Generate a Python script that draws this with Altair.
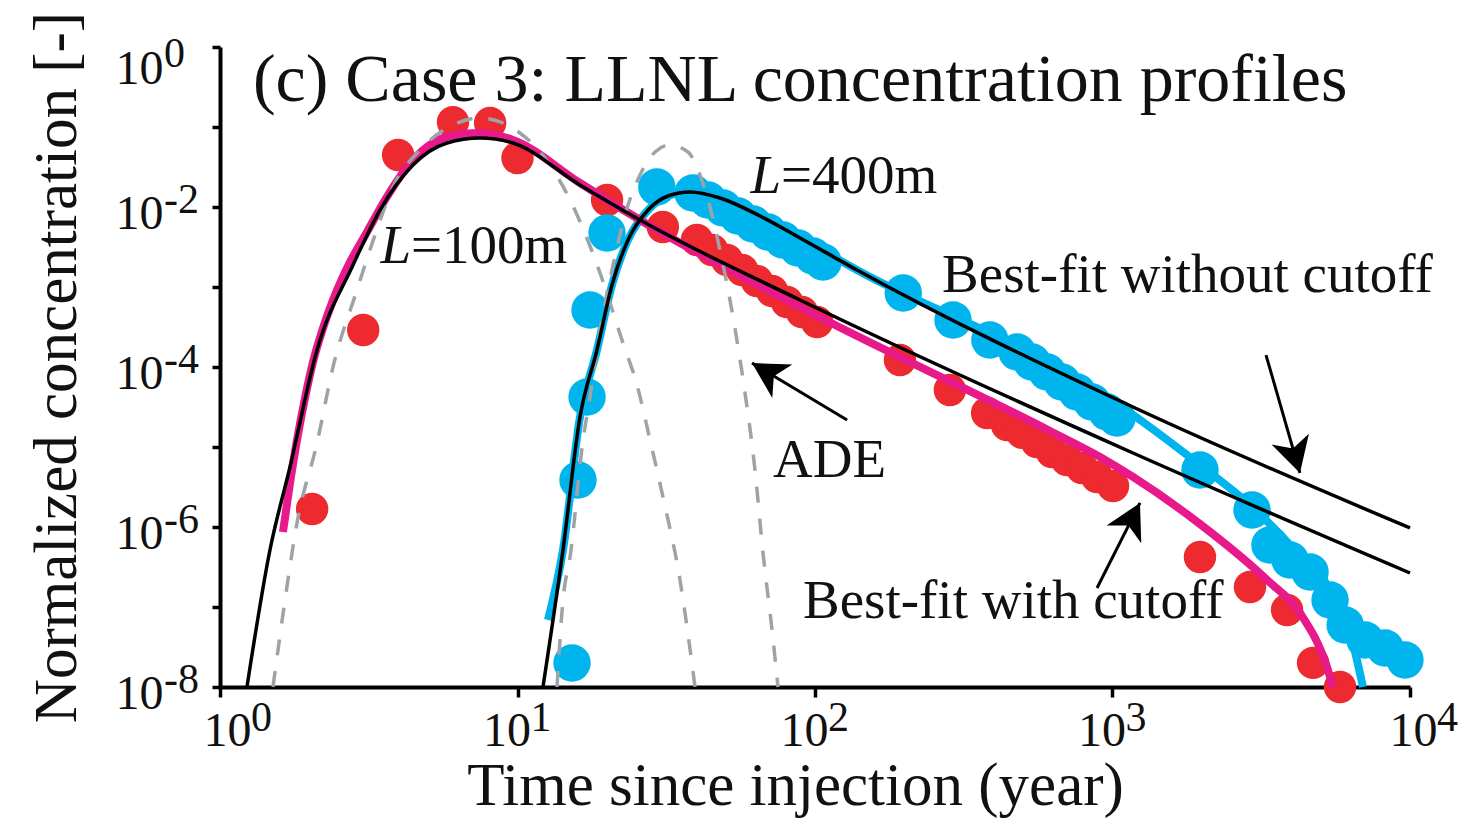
import math
import altair as alt
import pandas as pd

# ---------------- values ----------------
# measured concentrations, L = 100 m (red dots)
red_time = [2.04, 3.03, 3.97, 6.07, 8.09, 10.0, 20.0, 30.8, 40.1, 45.1, 50.6, 56.9,
            63.8, 71.7, 80.5, 90.4, 101.6, 193, 284, 379, 442, 497, 557, 626, 703,
            789, 887, 1004, 1968, 2898, 3862, 4722, 5818]
red_conc = [1.68e-6, 2.90e-4, 0.0447, 0.115, 0.112, 0.041, 0.01224, 0.00562, 0.00387,
            0.0029, 0.002176, 0.00163, 0.00119, 0.000891, 0.000649, 0.000487, 0.000365,
            1.224e-4, 5.16e-5, 2.66e-5, 1.88e-5, 1.50e-5, 1.155e-5, 8.66e-6, 6.88e-6,
            5.46e-6, 4.22e-6, 3.25e-6, 4.22e-7, 1.78e-7, 9.17e-8, 2.0e-8, 1.0e-8]

# measured concentrations, L = 400 m (blue dots)
blue_time = [15.25, 15.97, 17.13, 17.53, 20.0, 29.4, 38.9, 43.7, 49.1, 55.1, 61.9, 69.5,
             78.0, 87.7, 98.4, 106.4, 198, 291, 387, 478, 536, 603, 676, 760, 853, 959,
             1035, 1968, 2944, 3383, 3952, 4613, 5385, 6053, 7063, 8242, 9617]
blue_conc = [2.0e-8, 3.87e-6, 4.22e-5, 5.16e-4, 4.73e-3, 0.01778, 0.01496, 0.01224,
             0.00972, 0.00772, 0.00613, 0.00487, 0.00387, 0.00307, 0.00244, 0.002054,
             8.41e-4, 3.87e-4, 2.18e-4, 1.54e-4, 1.155e-4, 8.66e-5, 6.49e-5, 4.87e-5,
             3.65e-5, 2.74e-5, 2.30e-5, 5.16e-6, 1.63e-6, 5.96e-7, 3.87e-7, 2.74e-7,
             1.224e-7, 5.96e-8, 3.87e-8, 3.07e-8, 2.18e-8]

# best fit with cutoff, L = 100 m (magenta)
cut100_time = [1.628, 1.719, 1.815, 1.931, 2.054, 2.220, 2.398, 2.673, 3.120, 3.586,
               4.453, 5.794, 7.482, 9.658, 16.22, 25.81, 89.06, 616.6, 908, 1172, 1968,
               3306, 4268, 5260, 5512]
cut100_conc = [8.66e-7, 3.55e-6, 1.224e-5, 4.10e-5, 1.155e-4, 3.07e-4, 6.88e-4, 1.728e-3,
               4.87e-3, 0.01224, 0.0387, 0.075, 0.0841, 0.0688, 0.01995, 6.88e-3, 5.62e-4,
               1.585e-5, 7.5e-6, 4.22e-6, 1.09e-6, 2.18e-7, 8.41e-8, 1.778e-8, 1.0e-8]

# best fit with cutoff, L = 400 m (blue line)
cut400_time = [12.66, 14.22, 16.22, 18.50, 20.78, 23.52, 27.47, 32.06, 38.01, 47.94,
               65.34, 89.06, 138.4, 908, 1968, 2898, 3951, 5384, 6383, 6950]
cut400_conc = [6.88e-8, 5.16e-7, 2.37e-5, 1.632e-4, 1.06e-3, 3.87e-3, 9.17e-3, 0.01372,
               0.0154, 0.01296, 7.72e-3, 4.10e-3, 1.632e-3, 4.87e-5, 5.96e-6, 1.884e-6,
               5.96e-7, 1.632e-7, 3.87e-8, 1.0e-8]

# best fit without cutoff, L = 100 m (black)
nocut100_time = [1.232, 1.472, 1.719, 2.119, 2.80, 3.450, 4.453, 5.794, 7.482, 9.658,
                 16.22, 25.81, 89.06, 1172, 10000]
nocut100_conc = [1.0e-8, 5.16e-7, 5.62e-6, 1.632e-4, 1.884e-3, 9.17e-3, 0.0335, 0.0631,
                 0.0729, 0.0631, 0.01884, 6.88e-3, 6.88e-4, 8.41e-6, 2.66e-7]

# best fit without cutoff, L = 400 m (black)
nocut400_time = [12.18, 14.22, 16.22, 18.50, 20.78, 23.52, 27.47, 32.06, 38.01, 47.94,
                 65.34, 89.06, 138.4, 1172, 10000]
nocut400_conc = [1.0e-8, 5.16e-7, 2.37e-5, 1.632e-4, 1.06e-3, 3.87e-3, 9.17e-3, 0.01372,
                 0.0154, 0.01296, 7.72e-3, 4.10e-3, 1.632e-3, 3.16e-5, 9.72e-7]

# ADE solutions (grey dashed)
ade100_time = [1.507, 1.654, 1.815, 2.119, 2.398, 2.887, 3.319, 3.815, 4.701, 6.070,
               7.482, 10.19, 12.37, 15.02, 18.94, 22.62, 25.22, 27.89, 30.83, 35.17, 39.51]
ade100_conc = [1.0e-8, 1.224e-7, 1.122e-6, 1.122e-5, 1.0e-4, 9.17e-4, 4.47e-3, 0.01778,
               0.0516, 0.1059, 0.1296, 0.0841, 0.041, 0.01224, 1.496e-3, 2.0e-4, 5.96e-5,
               1.224e-5, 2.37e-6, 2.18e-7, 1.0e-8]
ade400_time = [13.58, 14.22, 15.02, 16.61, 17.53, 18.94, 20.78, 22.98, 25.81, 28.99,
               32.55, 37.42, 41.06, 45.07, 48.69, 53.02, 58.18, 62.85, 66.87, 71.71, 75.09]
ade400_conc = [1.0e-8, 1.224e-7, 4.22e-7, 1.224e-5, 4.22e-5, 2.90e-4, 1.632e-3, 7.94e-3,
               0.0251, 0.0487, 0.0596, 0.0487, 0.0251, 7.94e-3, 2.18e-3, 4.22e-4, 4.73e-5,
               5.16e-6, 4.73e-7, 5.16e-8, 1.0e-8]

# axis ticks: mantissa "10" plus exponent
x_ticks = [1, 10, 100, 1000, 10000]
x_tick_exponents = ["0", "1", "2", "3", "4"]
y_ticks = [1e-8, 1e-7, 1e-6, 1e-5, 1e-4, 1e-3, 1e-2, 1e-1, 1]
y_tick_exponents = ["-8", "", "-6", "", "-4", "", "-2", "", "0"]

# annotations
title_text = ["(c) Case 3: LLNL concentration profiles"]
title_time = [1.29]
title_conc = [0.2113]
note_text = ["=100m", "=400m", "ADE", "Best-fit without cutoff", "Best-fit with cutoff"]
note_time = [4.385, 76.9, 72.3, 267.3, 91.1]
note_conc = [0.001995, 0.01496, 4.22e-6, 8.66e-4, 7.29e-8]
ital_text = ["L", "L"]
ital_time = [4.385, 76.9]
ital_conc = [0.001995, 0.01496]

# arrows: tail -> tip
arrow_tail_time = [128.2, 3281, 887]
arrow_tail_conc = [2.18e-5, 1.41e-4, 1.73e-7]
arrow_tip_time = [61.4, 4267, 1237]
arrow_tip_conc = [1.12e-4, 4.73e-6, 2.0e-6]
arrow_angle = [301, 164, 27]

# ---------------- chart ----------------
FONT = "Liberation Serif"
INK = "#111111"
RED = "#ec2a2f"
BLUE = "#00b4ee"
MAGENTA = "#e8198b"
GREY = "#9ea3a8"
TICK_FS = 48
EXP_FS = 42


def has_label(ticks, exps):
    # label "10" only on ticks that carry an exponent
    keep = [str(round(math.log10(v))) for v, e in zip(ticks, exps) if e != ""]
    test = " || ".join(f"round(log(datum.value)/LN10) == {k}" for k in keep)
    return f"({test}) ? '10' : ''"


xscale = alt.Scale(type="log", domain=[1, 10000], nice=False)
yscale = alt.Scale(type="log", domain=[1e-8, 1], nice=False)

x_axis = alt.Axis(
    values=x_ticks, labelExpr=has_label(x_ticks, x_tick_exponents),
    title="Time since injection (year)", grid=False,
    domainColor="black", domainWidth=4, tickColor="black", tickWidth=3.5, tickSize=10,
    labelFont=FONT, labelFontSize=TICK_FS, labelColor=INK, labelPadding=48,
    labelAlign="right", labelBaseline="alphabetic",
    labelFlush=False, labelOverlap=False,
    labelOffset={"condition": [{"test": "datum.value < 2", "value": 31},
                               {"test": "datum.value > 5000", "value": 27}],
                 "value": 13},
    titleFont=FONT, titleFontSize=61, titleFontWeight="normal", titleColor=INK,
    titleX=575, titleY=117, titleBaseline="alphabetic",
)
y_axis = alt.Axis(
    values=y_ticks, labelExpr=has_label(y_ticks, y_tick_exponents),
    title="Normalized concentration [-]", grid=False,
    domainColor="black", domainWidth=4, tickColor="black", tickWidth=3.5, tickSize=8,
    labelFont=FONT, labelFontSize=TICK_FS, labelColor=INK, labelPadding=49,
    labelAlign="right", labelBaseline="alphabetic",
    labelFlush=False, labelOverlap=False,
    labelOffset={"condition": {"test": "datum.value > 0.5", "value": 36}, "value": 21},
    titleFont=FONT, titleFontSize=61, titleFontWeight="normal", titleColor=INK,
    titleX=-145, titleY=320, titleBaseline="alphabetic",
)


def X(f):
    return alt.X(f"{f}:Q", scale=xscale, axis=x_axis)


def Y(f):
    return alt.Y(f"{f}:Q", scale=yscale, axis=y_axis)


def frame(t, c):
    return pd.DataFrame({"t": t, "c": c, "i": list(range(len(t)))})


def line(t, c, **kw):
    return alt.Chart(frame(t, c)).mark_line(interpolate="monotone", **kw).encode(
        x=X("t"), y=Y("c"), order="i:Q")


def dots(t, c, color, size):
    return alt.Chart(frame(t, c)).mark_circle(color=color, size=size, opacity=1).encode(
        x=X("t"), y=Y("c"))


red_pts = dots(red_time, red_conc, RED, 1050)
blue_pts = dots(blue_time, blue_conc, BLUE, 1400)
blue_fit = line(cut400_time, cut400_conc, color=BLUE, strokeWidth=8, strokeCap="butt")
mag_fit = line(cut100_time, cut100_conc, color=MAGENTA, strokeWidth=8, strokeCap="butt")
ade1 = line(ade100_time, ade100_conc, color=GREY, strokeWidth=3.5, strokeDash=[16, 16])
ade2 = line(ade400_time, ade400_conc, color=GREY, strokeWidth=3.5, strokeDash=[16, 16])
nc1 = line(nocut100_time, nocut100_conc, color="black", strokeWidth=3.5)
nc2 = line(nocut400_time, nocut400_conc, color="black", strokeWidth=3.5)

arrows = pd.DataFrame({"t0": arrow_tail_time, "c0": arrow_tail_conc,
                       "t1": arrow_tip_time, "c1": arrow_tip_conc, "angle": arrow_angle})
arrow_lines = alt.Chart(arrows).mark_rule(color="black", strokeWidth=3).encode(
    x=X("t0"), y=Y("c0"), x2="t1:Q", y2="c1:Q")
ARROW_PATH = "M0,0 L0.55,1 L0,0.72 L-0.55,1 Z"
arrow_heads = alt.Chart(arrows).mark_point(
    shape=ARROW_PATH, filled=True, color="black", opacity=1, size=5000, strokeWidth=0
).encode(x=X("t1"), y=Y("c1"), angle=alt.Angle("angle:Q", scale=None))

title = alt.Chart(pd.DataFrame({"t": title_time, "c": title_conc, "s": title_text})).mark_text(
    font=FONT, fontSize=68, color=INK, align="left", baseline="alphabetic"
).encode(x=X("t"), y=Y("c"), text="s:N")
notes = alt.Chart(pd.DataFrame({"t": note_time, "c": note_conc, "s": note_text})).mark_text(
    font=FONT, fontSize=55, color=INK, align="left", baseline="alphabetic"
).encode(x=X("t"), y=Y("c"), text="s:N")
ital = alt.Chart(pd.DataFrame({"t": ital_time, "c": ital_conc, "s": ital_text})).mark_text(
    font=FONT, fontSize=55, fontStyle="italic", color=INK, align="right",
    baseline="alphabetic"
).encode(x=X("t"), y=Y("c"), text="s:N")

# exponents of the tick labels (raised, smaller)
exp_layers = []
for i, (v, e) in enumerate(zip(x_ticks, x_tick_exponents)):
    dx = 31 if i == 0 else (27 if i == len(x_ticks) - 1 else 13)
    exp_layers.append(
        alt.Chart(pd.DataFrame({"t": [v], "s": [e]})).mark_text(
            font=FONT, fontSize=EXP_FS, color=INK, align="left", baseline="alphabetic",
            dx=dx
        ).encode(x=X("t"), y=alt.value(684), text="s:N"))
for v, e in zip(y_ticks, y_tick_exponents):
    if e == "":
        continue
    dy = 20 if v > 0.5 else 6
    exp_layers.append(
        alt.Chart(pd.DataFrame({"c": [v], "s": [e]})).mark_text(
            font=FONT, fontSize=EXP_FS, color=INK, align="left", baseline="alphabetic",
            dy=dy
        ).encode(x=alt.value(-56), y=Y("c"), text="s:N"))

chart = alt.layer(
    red_pts, blue_pts, blue_fit, mag_fit, ade1, ade2, nc1, nc2,
    arrow_lines, arrow_heads, title, notes, ital, *exp_layers
).properties(
    width=1190, height=640,
    padding={"left": 220, "top": 47, "right": 50, "bottom": 133},
    autosize=alt.AutoSizeParams(type="none"),
    background="white",
).configure_view(stroke=None)

chart.save("out.html", embed_options={"renderer": "svg", "actions": False})
